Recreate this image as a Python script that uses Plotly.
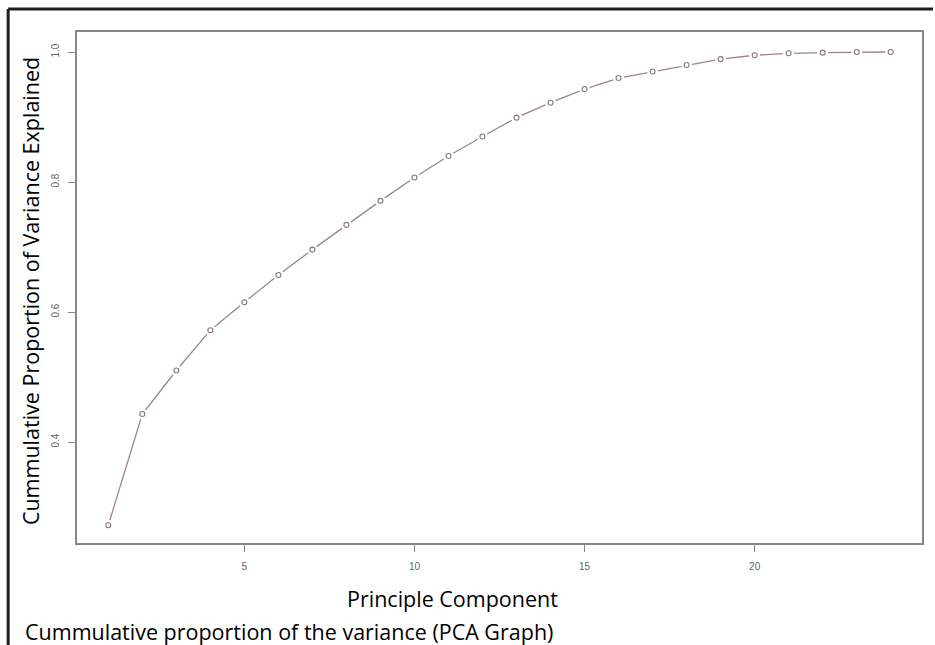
import plotly.graph_objects as go

components = list(range(1, 25))
cum_var = [0.272, 0.443, 0.510, 0.572, 0.615, 0.657, 0.696, 0.734, 0.771, 0.807,
           0.840, 0.870, 0.899, 0.922, 0.943, 0.960, 0.970, 0.980, 0.989, 0.995,
           0.998, 0.999, 1.000, 1.000]
x_ticks = [5, 10, 15, 20]
y_ticks = [0.4, 0.6, 0.8, 1.0]
y_tick_labels = ["0.4", "0.6", "0.8", "1.0"]

W, H = 935, 645
L, R, T, B = 77, 924, 32, 543

def px(xp):
    return (xp - L) / (R - L)

def py(yp):
    return (B - yp) / (B - T)

line_col = "rgb(155,135,130)"

fig = go.Figure()
fig.add_trace(go.Scatter(x=components, y=cum_var, mode="lines",
                         line=dict(color=line_col, width=1.3), hoverinfo="skip"))
fig.add_trace(go.Scatter(x=components, y=cum_var, mode="markers",
                         marker=dict(symbol="circle", size=11, color="white",
                                     line=dict(width=0)), hoverinfo="skip"))
fig.add_trace(go.Scatter(x=components, y=cum_var, mode="markers",
                         marker=dict(symbol="circle-open", size=5, color="rgb(135,120,118)",
                                     line=dict(width=1.1))))

axis_common = dict(showgrid=False, zeroline=False, showline=True, mirror=True,
                   linecolor="rgb(135,135,135)", linewidth=1.6,
                   ticks="outside", ticklen=7, tickcolor="rgb(135,135,135)", tickwidth=1,
                   tickfont=dict(family="Liberation Sans, Arial", size=10, color="rgb(100,100,100)"))

fig.update_xaxes(range=[0.08, 24.92], tickvals=x_ticks, ticktext=[str(v) for v in x_ticks],
                 ticklabelstandoff=6, **axis_common)
fig.update_yaxes(range=[0.2446, 1.0308], tickvals=y_ticks, ticktext=y_tick_labels,
                 tickangle=-90, ticklabelstandoff=5, **axis_common)

title_font = dict(family="Open Sans, Noto Sans, sans-serif", size=21.5, color="black")

fig.update_layout(
    width=W, height=H, showlegend=False,
    plot_bgcolor="white", paper_bgcolor="white",
    margin=dict(l=L, r=W - R, t=T, b=H - B, pad=0),
    annotations=[
        dict(text="Cummulative Proportion of Variance Explained", x=px(30), y=py(291),
             xref="paper", yref="paper", showarrow=False, textangle=-90,
             font=title_font, xanchor="center", yanchor="middle"),
        dict(text="Principle Component", x=px(453), y=py(598),
             xref="paper", yref="paper", showarrow=False,
             font=title_font, xanchor="center", yanchor="middle"),
        dict(text="Cummulative proportion of the variance (PCA Graph)", x=px(23), y=py(631),
             xref="paper", yref="paper", showarrow=False,
             font=title_font, xanchor="left", yanchor="middle"),
    ],
    shapes=[
        dict(type="line", xref="paper", yref="paper", x0=px(8), x1=px(935), y0=py(9), y1=py(9),
             line=dict(color="rgb(30,30,30)", width=3)),
        dict(type="line", xref="paper", yref="paper", x0=px(8), x1=px(8), y0=py(9), y1=py(645),
             line=dict(color="rgb(30,30,30)", width=3)),
    ],
)

fig.write_html("out.html", config={"displayModeBar": False},
               post_script="document.body.style.margin='0';")
